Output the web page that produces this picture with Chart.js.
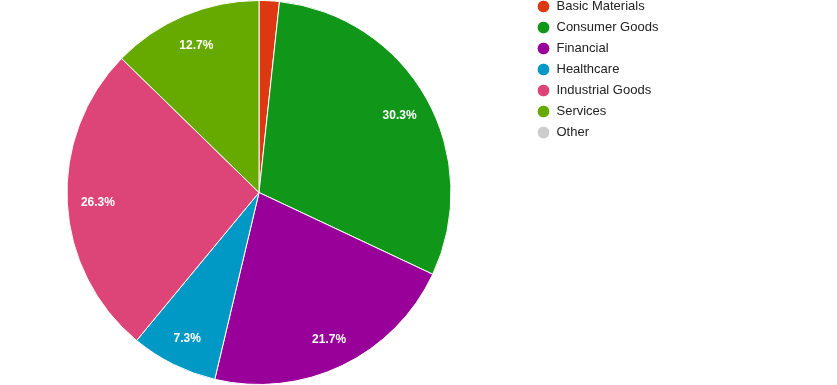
<!DOCTYPE html>
<html>
<head>
<meta charset="utf-8">
<script src="https://cdn.jsdelivr.net/npm/chart.js@4.4.0/dist/chart.umd.min.js"></script>
<style>
  html, body { margin: 0; padding: 0; background: #fff; }
  #wrap { width: 837px; height: 385px; }
</style>
</head>
<body>
<div id="wrap"><canvas id="pie"></canvas></div>
<script>
var sectors = ['Basic Materials', 'Consumer Goods', 'Financial', 'Healthcare', 'Industrial Goods', 'Services', 'Other'];
var weights = [1.7, 30.3, 21.7, 7.3, 26.3, 12.7, 0];
var sectorColors = ['#dc3912', '#109618', '#990099', '#0099c6', '#dd4477', '#66aa00', '#cccccc'];

// percent labels inside the slices, google charts style
var sliceLabels = {
	id: 'sliceLabels',
	afterDatasetsDraw: function(chart) {
		var ctx = chart.ctx;
		var meta = chart.getDatasetMeta(0);
		var data = chart.data.datasets[0].data;
		var total = 0;
		for (var i = 0; i < data.length; i++) total += data[i];
		ctx.save();
		ctx.font = 'bold 12px Arial, "Liberation Sans", sans-serif';
		ctx.fillStyle = '#ffffff';
		ctx.textAlign = 'center';
		ctx.textBaseline = 'middle';
		for (var k = 0; k < meta.data.length; k++) {
			var pct = data[k] / total * 100;
			if (pct < 5) continue;
			var arc = meta.data[k];
			var p = arc.getProps(['x', 'y', 'startAngle', 'endAngle', 'outerRadius']);
			var mid = (p.startAngle + p.endAngle) / 2;
			var r = p.outerRadius * 0.84;
			ctx.fillText(pct.toFixed(1) + '%', p.x + Math.cos(mid) * r, p.y + Math.sin(mid) * r + 2);
		}
		ctx.restore();
	}
};

// legend takes a fixed width so the pie sits on the left, then gets nudged
var legendShift = {
	id: 'legendShift',
	beforeLayout: function(chart) {
		var lg = chart.legend;
		if (lg && !lg._fixedW) {
			var fit = lg.fit;
			lg.fit = function() {
				fit.call(this);
				this.width = 319;
			};
			lg._fixedW = true;
		}
	},
	afterLayout: function(chart) {
		var lg = chart.legend;
		lg.left += 11; lg.right += 11;
		lg.top -= 8; lg.bottom -= 8;
	}
};

new Chart(document.getElementById('pie'), {
	type: 'pie',
	data: {
		labels: sectors,
		datasets: [{
			data: weights,
			backgroundColor: sectorColors,
			borderColor: '#ffffff',
			borderWidth: 1
		}]
	},
	options: {
		responsive: true,
		maintainAspectRatio: false,
		animation: false,
		layout: { padding: 0 },
		plugins: {
			tooltip: { enabled: false },
			legend: {
				position: 'right',
				align: 'start',
				onClick: null,
				labels: {
					usePointStyle: true,
					pointStyle: 'circle',
					boxHeight: 9,
					padding: 8,
					color: '#222222',
					font: { family: 'Arial, "Liberation Sans", sans-serif', size: 13 }
				}
			}
		}
	},
	plugins: [sliceLabels, legendShift]
});
</script>
</body>
</html>
